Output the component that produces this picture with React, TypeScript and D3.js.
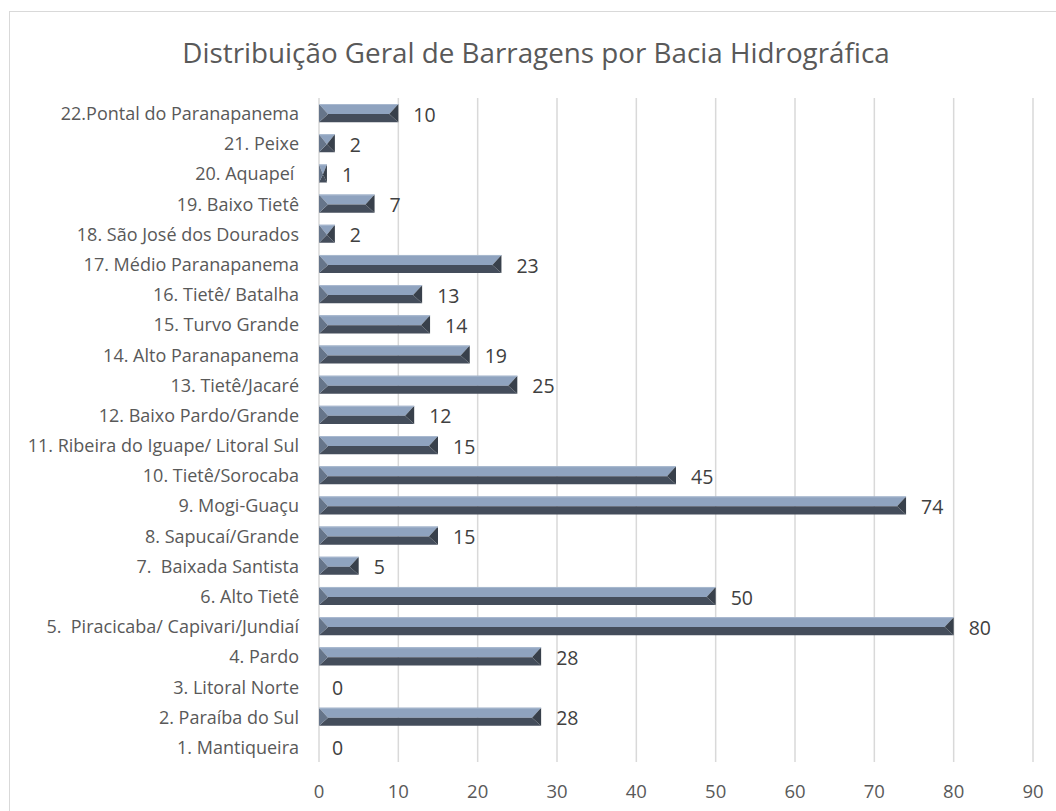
import React from 'react';
import * as d3 from 'd3';

const categories: string[] = [
  '1. Mantiqueira',
  '2. Paraíba do Sul',
  '3. Litoral Norte',
  '4. Pardo',
  '5.  Piracicaba/ Capivari/Jundiaí',
  '6. Alto Tietê',
  '7.  Baixada Santista',
  '8. Sapucaí/Grande',
  '9. Mogi-Guaçu',
  '10. Tietê/Sorocaba',
  '11. Ribeira do Iguape/ Litoral Sul',
  '12. Baixo Pardo/Grande',
  '13. Tietê/Jacaré',
  '14. Alto Paranapanema',
  '15. Turvo Grande',
  '16. Tietê/ Batalha',
  '17. Médio Paranapanema',
  '18. São José dos Dourados',
  '19. Baixo Tietê',
  '20. Aquapeí ',
  '21. Peixe',
  '22.Pontal do Paranapanema',
];

const values: number[] = [0, 28, 0, 28, 80, 50, 5, 15, 74, 45, 15, 12, 25, 19, 14, 13, 23, 2, 7, 1, 2, 10];

const xTicks: number[] = [0, 10, 20, 30, 40, 50, 60, 70, 80, 90];

const W = 1056;
const H = 811;
const FONT = '"Open Sans", "Noto Sans", sans-serif';

const App: React.FC = () => {
  const margin = { top: 98, right: 23, bottom: 49, left: 319 };
  const x = d3.scaleLinear().domain([0, 90]).range([margin.left, W - margin.right]);
  // 22 at the top, 1 at the bottom
  const y = d3
    .scaleBand<string>()
    .domain([...categories].reverse())
    .range([margin.top, H - margin.bottom])
    .paddingInner(0.4)
    .paddingOuter(0.2);

  const bh = y.bandwidth();

  const bar = (v: number, cat: string) => {
    const x0 = x(0);
    const x1 = x(v);
    const y0 = y(cat)!;
    const y1 = y0 + bh;
    const ym = y0 + bh * 0.55;
    const b = Math.min(bh * 0.5, (x1 - x0) / 2);
    if (v <= 0) return null;
    return (
      <g key={cat}>
        <polygon points={`${x0},${y0} ${x1},${y0} ${x1 - b},${ym} ${x0 + b},${ym}`} fill="#8fa3bf" />
        <polygon points={`${x0 + b},${ym} ${x1 - b},${ym} ${x1},${y1} ${x0},${y1}`} fill="#444d5b" />
        <polygon points={`${x0},${y0} ${x0 + b},${ym} ${x0},${y1}`} fill="#66758a" />
        <polygon points={`${x1},${y0} ${x1},${y1} ${x1 - b},${ym}`} fill="#38404b" />
        <line x1={x0} x2={x1} y1={y0 + 0.5} y2={y0 + 0.5} stroke="#a9b9cf" strokeWidth={1} />
      </g>
    );
  };

  return (
    <svg width={W} height={H} style={{ position: 'absolute', left: 0, top: 0, background: '#fff' }}>
      <rect x={9.5} y={11.5} width={W} height={H} fill="#fff" stroke="#d9d9d9" strokeWidth={1} />
      <text x={536} y={63} textAnchor="middle" fontFamily={FONT} fontSize={27.8} fill="#595959">
        Distribuição Geral de Barragens por Bacia Hidrográfica
      </text>
      {xTicks.map(t => (
        <line key={t} x1={x(t)} x2={x(t)} y1={margin.top} y2={H - margin.bottom} stroke="#d9d9d9" strokeWidth={1.5} />
      ))}
      {xTicks.map(t => (
        <text key={'t' + t} x={x(t)} y={790} textAnchor="middle" dominantBaseline="central" fontFamily={FONT} fontSize={18.5} fill="#595959">
          {t}
        </text>
      ))}
      {categories.map((c, i) => bar(values[i], c))}
      {categories.map(c => (
        <text
          key={'c' + c}
          x={299}
          y={y(c)! + bh / 2}
          textAnchor="end"
          dominantBaseline="central"
          fontFamily={FONT}
          fontSize={18}
          fill="#595959"
          style={{ whiteSpace: 'pre' }}
        >
          {c}
        </text>
      ))}
      {categories.map((c, i) => (
        <text
          key={'v' + c}
          x={x(values[i]) + (values[i] > 0 ? 15 : 13)}
          y={y(c)! + bh / 2 + 1}
          dominantBaseline="central"
          fontFamily={FONT}
          fontSize={19.5}
          fill="#404040"
        >
          {values[i]}
        </text>
      ))}
    </svg>
  );
};

export default App;
